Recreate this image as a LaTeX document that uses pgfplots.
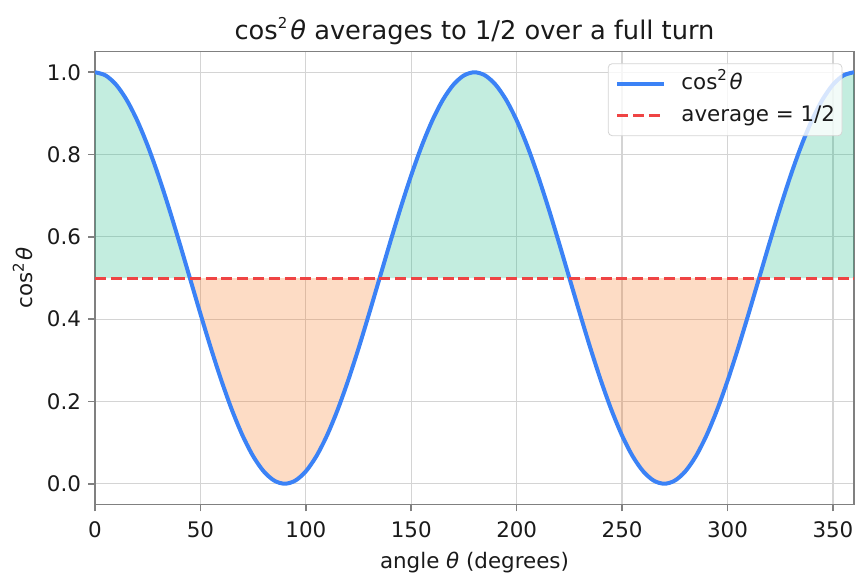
\documentclass[border=0pt]{standalone}
\usepackage{fontspec}
\setmainfont{DejaVu Sans}
\usepackage{pgfplots}
\pgfplotsset{compat=1.18}
\usepgfplotslibrary{fillbetween}

\definecolor{curveblue}{HTML}{3B82F6}
\definecolor{avgred}{HTML}{EF4444}
\definecolor{abovefill}{HTML}{10B981}
\definecolor{belowfill}{HTML}{F97316}
\definecolor{framegray}{HTML}{808080}
\definecolor{gridgray}{HTML}{D4D4D4}
\definecolor{textdark}{HTML}{1A1A1A}

% cos^2 theta written in the text font
\newcommand{\costwo}{cos\raisebox{0.42em}{\fontsize{7.5}{7.5}\selectfont 2}\kern0.12em\textit{θ}}

% cos^2(theta) sampled every 5 degrees
\pgfplotstableread{
theta  val
0      1.00000
5      0.99240
10     0.96985
15     0.93301
20     0.88302
25     0.82139
30     0.75000
35     0.67101
40     0.58682
45     0.50000
50     0.41318
55     0.32899
60     0.25000
65     0.17861
70     0.11698
75     0.06699
80     0.03015
85     0.00760
90     0.00000
95     0.00760
100    0.03015
105    0.06699
110    0.11698
115    0.17861
120    0.25000
125    0.32899
130    0.41318
135    0.50000
140    0.58682
145    0.67101
150    0.75000
155    0.82139
160    0.88302
165    0.93301
170    0.96985
175    0.99240
180    1.00000
185    0.99240
190    0.96985
195    0.93301
200    0.88302
205    0.82139
210    0.75000
215    0.67101
220    0.58682
225    0.50000
230    0.41318
235    0.32899
240    0.25000
245    0.17861
250    0.11698
255    0.06699
260    0.03015
265    0.00760
270    0.00000
275    0.00760
280    0.03015
285    0.06699
290    0.11698
295    0.17861
300    0.25000
305    0.32899
310    0.41318
315    0.50000
320    0.58682
325    0.67101
330    0.75000
335    0.82139
340    0.88302
345    0.93301
350    0.96985
355    0.99240
360    1.00000
}\costable

\begin{document}
\begin{tikzpicture}
\begin{axis}[
  name=ax,
  scale only axis,
  width=379.5pt, height=226.3pt,
  xmin=0, xmax=360, ymin=-0.05, ymax=1.05,
  xtick={0,50,...,350},
  ytick={0,0.2,...,1.0},
  yticklabel style={/pgf/number format/.cd, fixed, fixed zerofill, precision=1},
  xticklabel style={yshift=-1.5pt},
  /pgf/number format/assume math mode=true,
  tick label style={font=\fontsize{10.7}{12.8}\selectfont, text=textdark},
  label style={font=\fontsize{10.7}{12.8}\selectfont, text=textdark},
  xlabel style={yshift=-0.5pt},
  title style={font=\fontsize{12.85}{15}\selectfont, text=textdark, yshift=-6pt},
  title={\costwo\ averages to 1/2 over a full turn},
  xlabel={angle \textit{θ} (degrees)},
  ylabel={\costwo},
  tick align=outside,
  tick pos=left,
  major tick length=3.5pt,
  every tick/.style={framegray, line width=0.8pt},
  axis line style={framegray, line width=0.8pt},
  grid=major,
  major grid style={gridgray, line width=0.6pt},
  legend style={
    at={(1,1)}, xshift=-5.8pt, yshift=-5.8pt, anchor=north east,
    font=\fontsize{10.7}{12.8}\selectfont, text=textdark,
    draw=gridgray, fill=white, fill opacity=0.8, text opacity=1, draw opacity=1,
    rounded corners=2pt, inner xsep=3.5pt, inner ysep=5pt,
    nodes={inner sep=0pt, text height=8pt, text depth=2.2pt},
    row sep=5.6pt, column sep=7.8pt,
  },
  legend cell align=left,
  legend image code/.code={
    \draw[#1] (0pt,0pt) -- (23.3pt,0pt);
  },
]

% boundary paths for the shaded regions
\addplot[name path=curve, draw=none, forget plot] table[x=theta, y=val] {\costable};
\addplot[name path=half, draw=none, forget plot] coordinates {(0,0.5) (360,0.5)};

% above the average
\addplot[abovefill, fill opacity=0.25, draw=none, forget plot]
  fill between[of=curve and half, soft clip={domain=0:45}];
\addplot[abovefill, fill opacity=0.25, draw=none, forget plot]
  fill between[of=curve and half, soft clip={domain=135:225}];
\addplot[abovefill, fill opacity=0.25, draw=none, forget plot]
  fill between[of=curve and half, soft clip={domain=315:360}];
% below the average
\addplot[belowfill, fill opacity=0.25, draw=none, forget plot]
  fill between[of=curve and half, soft clip={domain=45:135}];
\addplot[belowfill, fill opacity=0.25, draw=none, forget plot]
  fill between[of=curve and half, soft clip={domain=225:315}];

\addplot[curveblue, line width=2pt, smooth] table[x=theta, y=val] {\costable};
\addlegendentry{\costwo}

\addplot[avgred, line width=1.5pt, dash pattern=on 5.5pt off 2.4pt] coordinates {(0,0.5) (360,0.5)};
\addlegendentry{average = 1/2}

\end{axis}
\pgfresetboundingbox
\path ([xshift=-47.5pt,yshift=-39.85pt]ax.south west) rectangle ([xshift=7pt,yshift=25.85pt]ax.north east);
\end{tikzpicture}
\end{document}
